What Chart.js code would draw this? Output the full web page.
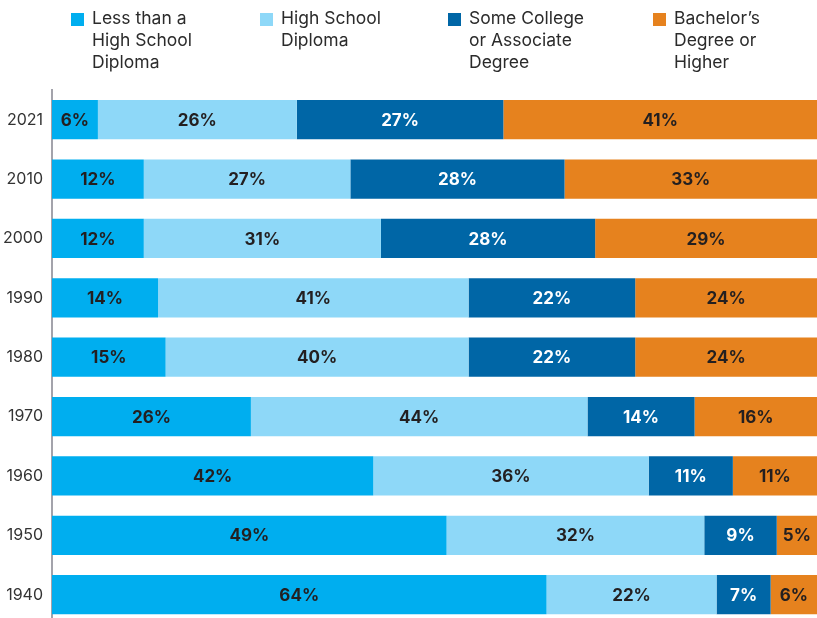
<!DOCTYPE html>
<html>
<head>
<meta charset="utf-8">
<script src="https://cdn.jsdelivr.net/npm/chart.js@4"></script>
<style>
  html, body { margin: 0; padding: 0; background: #fff; overflow: hidden; }
  #cntr { position: relative; width: 817px; height: 618px; overflow: hidden; }
  #cntr_grafica { position: absolute; left: 0; top: 0; width: 817px; height: 643px; }
  #leyenda { position: absolute; left: 0; top: 0; width: 817px; height: 90px;
    font-family: Inter, "Noto Sans", sans-serif; font-size: 17.5px; line-height: 22px; color: #2b2b2b; }
  .item { position: absolute; top: 7px; }
  .item span.caja { position: absolute; left: 0; top: 6px; width: 13px; height: 13px; }
  .item div { position: absolute; left: 21px; top: 0; white-space: nowrap; }
</style>
</head>
<body>
<div id="cntr">
  <div id="cntr_grafica"><canvas id="myChart" width="817" height="643"></canvas></div>
  <div id="leyenda"></div>
</div>
<script>
// Años (de arriba a abajo)
const anios = ['2021', '2010', '2000', '1990', '1980', '1970', '1960', '1950', '1940'];
// Series en porcentaje
const menosSecundaria = [6, 12, 12, 14, 15, 26, 42, 49, 64];
const secundaria = [26, 27, 31, 41, 40, 44, 36, 32, 22];
const algoUniversidad = [27, 28, 28, 22, 22, 14, 11, 9, 7];
const licenciatura = [41, 33, 29, 24, 24, 16, 11, 5, 6];
// Nombres de las series (una línea por elemento)
const nombres = [
  ['Less than a', 'High School', 'Diploma'],
  ['High School', 'Diploma'],
  ['Some College', 'or Associate', 'Degree'],
  ['Bachelor\u2019s', 'Degree or', 'Higher']
];
const colores = ['#00aeef', '#8ed8f8', '#0066a6', '#e6821e'];
const coloresTexto = ['#231f20', '#231f20', '#ffffff', '#231f20'];
const posLeyenda = [71, 260, 448, 653];

const series = [menosSecundaria, secundaria, algoUniversidad, licenciatura];

// Total de cada fila para repartir la barra completa
const totales = anios.map((a, i) => series.reduce((s, serie) => s + serie[i], 0));

// Leyenda en HTML
const leyenda = document.getElementById('leyenda');
nombres.forEach((lineas, i) => {
  const item = document.createElement('div');
  item.className = 'item';
  item.style.left = posLeyenda[i] + 'px';
  item.innerHTML = '<span class="caja" style="background:' + colores[i] + '"></span><div>' + lineas.join('<br>') + '</div>';
  leyenda.appendChild(item);
});

// Etiquetas de porcentaje dentro de cada tramo
const etiquetas = {
  id: 'etiquetas',
  afterDatasetsDraw(chart) {
    const ctx = chart.ctx;
    ctx.save();
    ctx.font = 'bold 17px Inter, "Noto Sans", sans-serif';
    ctx.textAlign = 'center';
    ctx.textBaseline = 'middle';
    chart.data.datasets.forEach((ds, d) => {
      chart.getDatasetMeta(d).data.forEach((el, i) => {
        ctx.fillStyle = coloresTexto[d];
        ctx.fillText(series[d][i] + '%', (el.x + el.base) / 2, el.y + 1);
      });
    });
    ctx.restore();
  }
};

const ctx = document.getElementById('myChart');
new Chart(ctx, {
  type: 'bar',
  data: {
    labels: anios,
    datasets: series.map((serie, d) => ({
      label: nombres[d].join(' '),
      data: serie.map((v, i) => v / totales[i] * 100),
      backgroundColor: colores[d],
      borderWidth: 0,
      barPercentage: 0.66,
      categoryPercentage: 1
    }))
  },
  options: {
    indexAxis: 'y',
    responsive: false,
    animation: false,
    layout: { padding: { top: 90, right: 0, bottom: 0, left: 0 } },
    plugins: {
      legend: { display: false },
      tooltip: { enabled: false }
    },
    scales: {
      x: { stacked: true, min: 0, max: 100, display: false },
      y: {
        stacked: true,
        grid: { display: false, drawTicks: false },
        border: { display: true, color: '#a3a3ab', width: 2 },
        ticks: {
          color: '#333333',
          padding: 9,
          font: { family: 'Inter, "Noto Sans", sans-serif', size: 16 }
        },
        afterFit(scale) { scale.width = 52; }
      }
    }
  },
  plugins: [etiquetas]
});
</script>
</body>
</html>
